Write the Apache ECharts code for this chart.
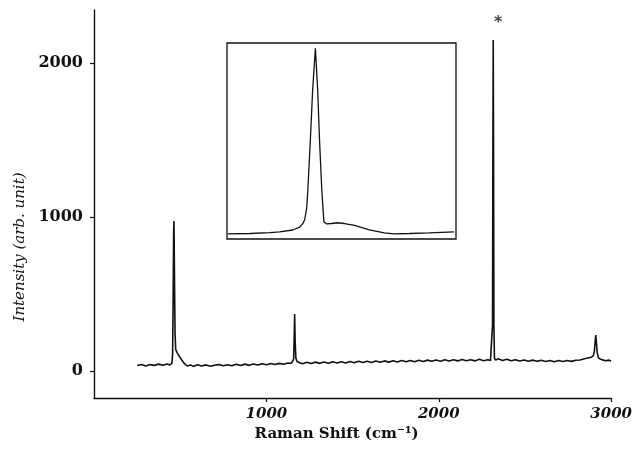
<!DOCTYPE html>
<html>
<head>
<meta charset="utf-8">
<script src="https://cdn.jsdelivr.net/npm/echarts@6.0.0/dist/echarts.min.js"></script>
<style>
  html, body { margin: 0; padding: 0; background: #fff; }
  #chart { width: 635px; height: 452px; }
</style>
</head>
<body>
<div id="chart"></div>
<script>
// main spectrum
const ramanShift = [
  250, 275, 300, 325, 350, 375, 400, 425, 440, 445, 452, 456, 459, 462, 464, 467, 470, 474, 482, 495,
  510, 525, 540, 560, 575, 600, 625, 650, 675, 700, 725, 750, 775, 800, 825, 850, 875, 900, 925, 950,
  975, 1000, 1025, 1050, 1075, 1100, 1125, 1145, 1152, 1158, 1161, 1164, 1167, 1171, 1178, 1190, 1210, 1235, 1260, 1285,
  1310, 1335, 1360, 1385, 1410, 1435, 1460, 1485, 1510, 1535, 1560, 1585, 1610, 1635, 1660, 1685, 1710, 1735, 1760, 1785,
  1810, 1835, 1860, 1885, 1910, 1935, 1960, 1985, 2010, 2035, 2060, 2085, 2110, 2135, 2160, 2185, 2210, 2235, 2260, 2285,
  2300, 2309, 2312, 2314, 2316, 2318, 2320, 2323, 2330, 2345, 2370, 2395, 2420, 2445, 2470, 2495, 2520, 2545, 2570, 2595,
  2620, 2645, 2670, 2695, 2720, 2745, 2770, 2795, 2820, 2845, 2865, 2885, 2897, 2903, 2908, 2911, 2914, 2919, 2927, 2940,
  2955, 2970, 2985, 3000
];
const intensity = [
  36, 43, 33, 42, 37, 45, 38, 46, 40, 44, 50, 110, 450, 900, 974, 600, 250, 140, 120, 95,
  70, 48, 33, 40, 30, 41, 33, 40, 31, 38, 42, 34, 41, 35, 44, 36, 45, 37, 46, 39,
  47, 41, 49, 42, 50, 44, 52, 51, 57, 75, 200, 370, 190, 85, 62, 56, 47, 57, 49, 58,
  50, 59, 51, 60, 52, 61, 53, 62, 54, 63, 55, 64, 56, 65, 57, 66, 58, 67, 59, 68,
  60, 69, 61, 70, 62, 71, 63, 72, 64, 73, 65, 74, 66, 75, 67, 74, 66, 76, 67, 74,
  68, 75, 300, 1400, 2150, 1400, 300, 85, 71, 80, 69, 77, 67, 74, 65, 72, 64, 71, 63, 70,
  62, 69, 61, 68, 62, 69, 63, 70, 72, 80, 85, 90, 100, 130, 200, 234, 195, 120, 85, 76,
  71, 67, 71, 66
];

// inset: enlarged band, relative units (0-100 both ways)
const insetX = [0.4, 10, 18.7, 23, 28.7, 31.7, 33, 33.9, 34.8, 35.3, 36.4, 37.4, 38.6, 39.6, 40.4, 41.4, 42.3, 43.5, 45.7, 48.3,
  51.3, 55.7, 62.2, 68.7, 73, 79.6, 88.3, 99.1];
const insetY = [2.6, 2.8, 3.3, 3.6, 4.6, 6.1, 7.7, 9.7, 15.8, 25, 50.5, 76, 97.3, 76, 50.5, 25, 8.8, 7.7, 7.9, 8.3,
  7.9, 6.9, 4.6, 3.1, 2.6, 2.8, 3.1, 3.6];

const starMark = [[2345, 2262]];
const xTicks = [1000, 2000, 3000];
const yTicks = [0, 1000, 2000];

const ink = '#111';
const chart = echarts.init(document.getElementById('chart'), null, { renderer: 'canvas' });

const option = {
  backgroundColor: '#fff',
  animation: false,
  grid: [
    { left: 94, top: 10, right: 23, bottom: 54 },
    { left: 227, top: 43, width: 229, height: 196, show: true, borderColor: ink, borderWidth: 1.3, backgroundColor: 'transparent', z: 5 }
  ],
  xAxis: [
    {
      type: 'value', gridIndex: 0, min: 0, max: 3000,
      splitLine: { show: false },
      axisLine: { onZero: false, lineStyle: { color: ink, width: 1.4 } },
      axisTick: { customValues: xTicks, length: 4, lineStyle: { color: ink, width: 1.2 } },
      axisLabel: {
        customValues: xTicks, margin: 9, color: ink, formatter: (v) => String(v),
        fontFamily: 'DejaVu Serif', fontWeight: 'bold', fontStyle: 'italic', fontSize: 15
      },
      name: 'Raman Shift (cm\u207B\u00B9)', nameLocation: 'middle', nameGap: 23,
      nameTextStyle: { color: ink, fontFamily: 'DejaVu Serif', fontWeight: 'bold', fontSize: 15, padding: [0, 32, 0, 0] }
    },
    { type: 'value', gridIndex: 1, min: 0, max: 100, show: false }
  ],
  yAxis: [
    {
      type: 'value', gridIndex: 0, min: -175, max: 2345,
      splitLine: { show: false },
      axisLine: { onZero: false, lineStyle: { color: ink, width: 1.4 } },
      axisTick: { customValues: yTicks, length: 4, lineStyle: { color: ink, width: 1.2 } },
      axisLabel: {
        customValues: yTicks, margin: 11, color: ink, formatter: (v) => String(v),
        fontFamily: 'DejaVu Serif', fontWeight: 'bold', fontSize: 16
      }
    },
    { type: 'value', gridIndex: 1, min: 0, max: 100, show: false }
  ],
  graphic: [
    {
      type: 'text', x: 20, y: 247, rotation: Math.PI / 2,
      style: {
        text: 'Intensity (arb. unit)', fill: ink,
        font: 'italic 15px "DejaVu Serif"', textAlign: 'center', textVerticalAlign: 'middle'
      }
    }
  ],
  series: [
    {
      type: 'line', xAxisIndex: 0, yAxisIndex: 0,
      data: ramanShift.map((x, i) => [x, intensity[i]]),
      showSymbol: false,
      lineStyle: { color: ink, width: 1.6 }
    },
    {
      type: 'line', xAxisIndex: 1, yAxisIndex: 1,
      data: insetX.map((x, i) => [x, insetY[i]]),
      showSymbol: false, z: 6,
      lineStyle: { color: ink, width: 1.3 }
    },
    {
      type: 'scatter', xAxisIndex: 0, yAxisIndex: 0,
      data: starMark, symbolSize: 0,
      label: {
        show: true, position: 'inside', formatter: '*', color: ink,
        fontFamily: 'DejaVu Sans', fontWeight: 'bold', fontSize: 16
      }
    }
  ]
};
chart.setOption(option);
</script>
</body>
</html>
